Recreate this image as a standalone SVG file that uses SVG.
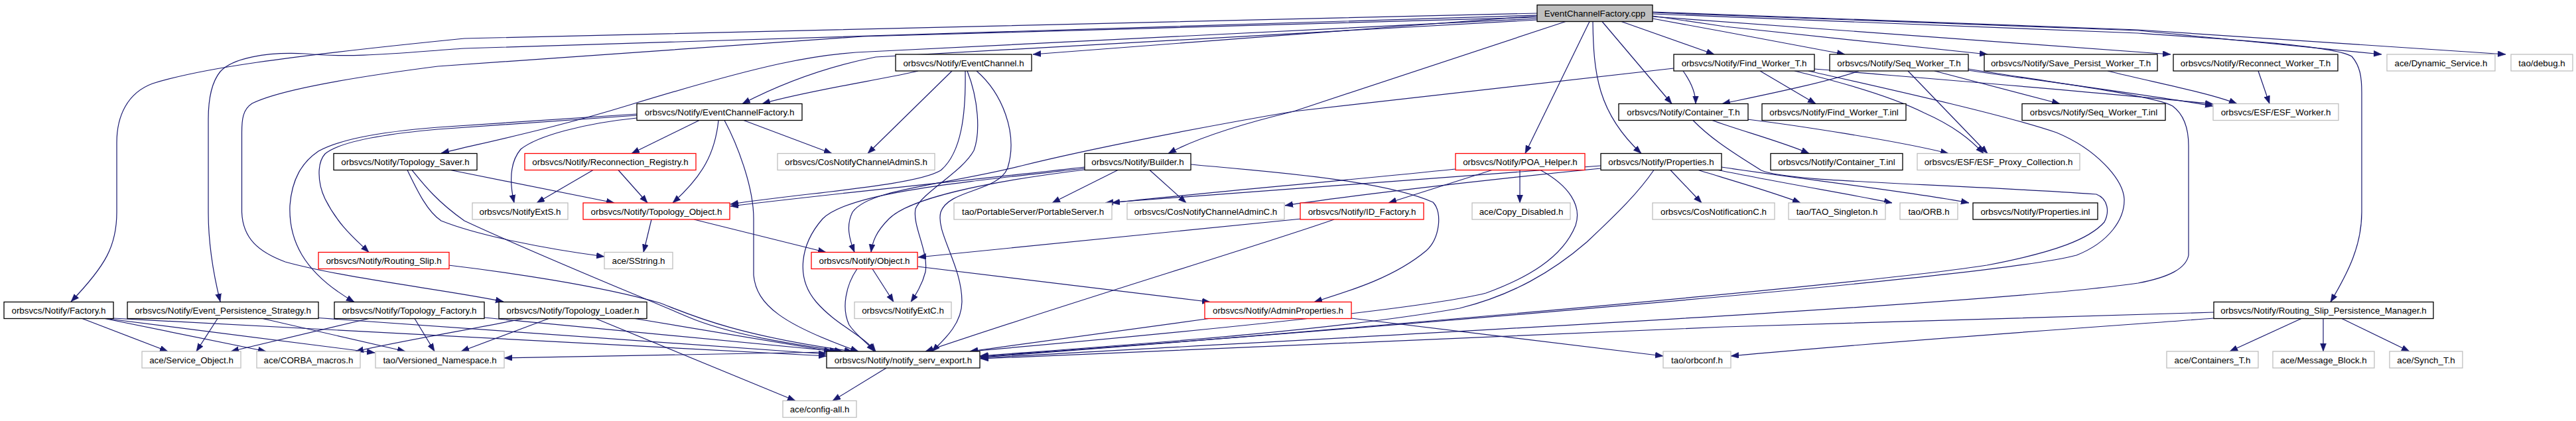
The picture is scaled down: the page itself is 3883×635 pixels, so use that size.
<svg xmlns="http://www.w3.org/2000/svg" width="3883" height="635" viewBox="0 0 3883 635">
<style>
rect{fill:#fff;stroke-width:1.3}
.k rect{stroke:#000}
.g rect{stroke:#bfbfbf}
.r rect{stroke:#ff0000}
.c rect{fill:#bfbfbf;stroke:#000}
text{font-family:"Liberation Sans",Arial,sans-serif;font-size:13.33px;fill:#000;text-anchor:middle}
#edges path{fill:none;stroke:#191970;stroke-width:1.2;marker-end:url(#a)}
</style>
<defs>
<marker id="a" markerUnits="userSpaceOnUse" markerWidth="13" markerHeight="10" refX="12" refY="4.5" orient="auto" viewBox="0 0 13 10">
<path d="M0,0 L12,4.5 L0,9 z" fill="#191970" stroke="#191970" stroke-width="0.5"/>
</marker>
</defs>
<rect x="0" y="0" width="3883" height="635" style="fill:#fff;stroke:none"/>
<g id="edges">
<path d="M2317,20 L700,58 C420,86 300,104 230,126 C192,140 176,175 176,215 L176,320 C176,370 160,400 107,455"/>
<path d="M2317,23 L700,73 C600,80 530,88 460,81 C400,78 350,88 332,108 C318,125 314,150 314,180 L314,320 C314,370 322,415 332,455"/>
<path d="M2317,26 L1300,55 L660,100 C520,118 420,136 380,156 C366,165 364.5,180 364.5,200 L364.5,320 C366,360 390,380 430,395 C520,420 680,438 759,455"/>
<path d="M2317,28 L1310,78 C1230,81 1150,97 950,158 C830,195 730,215 665,231"/>
<path d="M2317,30 L1320,86 C1239,102 1170,130 1119,156.5"/>
<path d="M2317,24 L1557,82"/>
<path d="M2360,32.5 L1950,168 C1880,185 1810,205 1761,231.5"/>
<path d="M2396,32.5 L2299,231.5"/>
<path d="M2401,32.5 C2402,110 2408,170 2474,231.5"/>
<path d="M2415,32.5 L2520,156.5"/>
<path d="M2444,32.5 L2584,82"/>
<path d="M2491,28 L2600,48 L2781,82"/>
<path d="M2491,24 L2600,40 L2996,82"/>
<path d="M2491,25 L3272,82"/>
<path d="M2491,19 L3223,46 L3590,82"/>
<path d="M2491,18 L3223,45 L3777,82"/>
<path d="M2491,21 L3223,50 C3400,62 3520,70 3545,85 C3558,100 3560,117 3560,140 L3560,320 C3560,370 3540,410 3513,455.5"/>
<path d="M1384,107 C1340,118 1210,138 1149,156.5"/>
<path d="M1435,107 L1308,231.5"/>
<path d="M1455,107 C1456,170 1450,230 1418,257 C1380,280 1220,290 1101,308"/>
<path d="M1458,107 C1475,150 1478,200 1468,227 C1450,260 1390,290 1380,315 C1375,340 1400,380 1395,410 C1390,430 1380,445 1373,455.5"/>
<path d="M1472,107 C1510,140 1535,200 1519,253 C1505,290 1430,285 1418,320 C1410,350 1450,400 1450,455 C1450,490 1420,515 1405,530"/>
<path d="M1685,256.5 L1586,306"/>
<path d="M1733,256.5 L1788,306"/>
<path d="M1795,248 C1900,258 2080,270 2160,305 C2175,320 2170,360 2150,378 C2100,420 2030,440 1981,455.5"/>
<path d="M1635,252 C1500,268 1300,287 1101,311"/>
<path d="M1635,256 C1480,275 1370,300 1340,330 C1320,350 1315,365 1313,380.5"/>
<path d="M1635,254 C1450,275 1280,290 1240,330 C1205,370 1200,420 1230,455 C1260,490 1300,505 1320,530"/>
<path d="M2523,103 L1950,168 C1820,190 1640,225 1540,250 C1420,280 1310,285 1285,320 C1275,340 1280,360 1288,380.5"/>
<path d="M2249,256.5 L2093,306"/>
<path d="M2291,256.5 L2291,306"/>
<path d="M2322,256.5 C2365,280 2385,310 2375,340 C2355,390 2300,420 2240,442 C2150,465 1800,500 1462,530"/>
<path d="M2194,255 C2000,275 1800,292 1676,306"/>
<path d="M2493,256.5 C2470,290 2440,320 2392,365 C2340,410 2280,445 2200,465 C2000,500 1700,520 1477,537"/>
<path d="M2518,256.5 L2565,306"/>
<path d="M2560,256.5 C2610,272 2680,292 2714,306"/>
<path d="M2590,256.5 C2680,275 2800,295 2852,306"/>
<path d="M2595,252 C2700,268 2900,292 2968,306"/>
<path d="M2413,250 C2100,275 1800,296 1666,306"/>
<path d="M2413,254 C2200,275 2000,300 1937,310"/>
<path d="M2581,181.5 C2620,196 2690,215 2727,231.5"/>
<path d="M2634,180 C2700,188 2860,212 2937,231.5"/>
<path d="M2552,181.5 C2575,205 2600,223 2655,257 C2700,275 2895,275 3160,293 C3178,300 3180,320 3172,335 C3150,360 3100,380 2995,400 C2800,430 2000,500 1478,539"/>
<path d="M2802,107 C2750,125 2650,145 2596,156.5"/>
<path d="M2916,107 L3105,156.5"/>
<path d="M2876,107 L2996,231.5"/>
<path d="M2966,106 C3100,125 3250,145 3336,160"/>
<path d="M2967,104 C3100,125 3250,145 3275,160 C3295,175 3299,200 3299,220 L3299,385 C3295,405 3270,418 3223,427 C3000,460 2000,510 1478,540"/>
<path d="M2537,107 C2550,125 2556,140 2556,156.5"/>
<path d="M2653,107 L2737,156.5"/>
<path d="M2705,107 C2780,125 2850,145 2900,170 C2945,190 2970,210 2990,231.5"/>
<path d="M2735,104 C2950,122 3200,142 3336,157"/>
<path d="M2726,107 C2850,135 3021,173 3100,200 C3160,225 3200,270 3202,300 C3203,330 3180,365 3130,385 C3000,420 2000,500 1478,538"/>
<path d="M3177,107 C3250,125 3330,140 3372,156.5"/>
<path d="M3404,107 L3421,156.5"/>
<path d="M960,172 L660,192 C560,200 510,212 480,228 C455,245 440,270 437,310 C435,360 455,410 534,455.5"/>
<path d="M960,174 L660,195 C570,203 510,215 490,232 C478,245 478,275 490,300 C510,340 535,360 556,380.5"/>
<path d="M960,178 C880,186 810,205 785,225 C768,245 768,275 775,306"/>
<path d="M1054,181.5 L952,231.5"/>
<path d="M1083,181.5 C1078,230 1060,265 1014,306"/>
<path d="M1121,181.5 L1254,231.5"/>
<path d="M1092,181.5 C1110,215 1136,280 1136,330 L1136,415 C1140,460 1180,490 1294,530"/>
<path d="M894,256.5 L809,306"/>
<path d="M932,256.5 L976,306"/>
<path d="M679,256.5 L926,306"/>
<path d="M614,256.5 C630,290 645,320 665,333 C720,355 820,375 911,387"/>
<path d="M621,256.5 C640,280 660,305 700,333 C800,380 960,445 1037,478 C1100,505 1200,520 1270,530"/>
<path d="M982,331 L970,380.5"/>
<path d="M1046,331 L1245,380.5"/>
<path d="M1315,405.5 L1347,455.5"/>
<path d="M1383,402 L1824,455.5"/>
<path d="M1292,405.5 C1275,430 1268,465 1280,490 C1290,505 1305,515 1318,530"/>
<path d="M1962,330 L1384,388"/>
<path d="M2011,331 C1900,370 1600,460 1395,530"/>
<path d="M1822,480.5 L1462,530"/>
<path d="M2037,480 L2507,537"/>
<path d="M1246,531 L760,540"/>
<path d="M1336,555 L1255,604.5"/>
<path d="M789,480.5 C720,495 600,515 536,530"/>
<path d="M827,480.5 L695,530"/>
<path d="M898,480.5 L1199,604.5"/>
<path d="M957,480.5 L1254,530"/>
<path d="M556,480.5 L348,530"/>
<path d="M625,480.5 L655,530"/>
<path d="M730,479 L1263,530"/>
<path d="M328,480.5 L296,530"/>
<path d="M396,480.5 L611,530"/>
<path d="M480,479.5 L1246,534"/>
<path d="M124,480.5 L253,530"/>
<path d="M158,480.5 L401,530"/>
<path d="M160,480.5 L565,532"/>
<path d="M170.5,480 L1246,537"/>
<path d="M676,400 C760,410 900,430 995,457 C1030,470 1100,505 1285,530"/>
<path d="M3469,480.5 L3361,530"/>
<path d="M3502,480.5 L3502,530"/>
<path d="M3530,480.5 L3632,530"/>
<path d="M3337,471 C3250,472 3100,478 2600,493 L1478,541"/>
<path d="M3337,480 C3250,487 2900,510 2609,537"/>
</g>
<g id="n_cpp" class="c"><rect x="2317" y="7.5" width="174" height="25"/><text x="2404" y="25">EventChannelFactory.cpp</text></g>
<g id="n_ec" class="k"><rect x="1350" y="82" width="205" height="25"/><text x="1452.5" y="99.5">orbsvcs/Notify/EventChannel.h</text></g>
<g id="n_fw" class="k"><rect x="2523" y="82" width="212" height="25"/><text x="2629" y="99.5">orbsvcs/Notify/Find_Worker_T.h</text></g>
<g id="n_sw" class="k"><rect x="2758" y="82" width="209" height="25"/><text x="2862.5" y="99.5">orbsvcs/Notify/Seq_Worker_T.h</text></g>
<g id="n_spw" class="k"><rect x="2991" y="82" width="261" height="25"/><text x="3121.5" y="99.5">orbsvcs/Notify/Save_Persist_Worker_T.h</text></g>
<g id="n_rw" class="k"><rect x="3276" y="82" width="248" height="25"/><text x="3400" y="99.5">orbsvcs/Notify/Reconnect_Worker_T.h</text></g>
<g id="n_ds" class="g"><rect x="3598" y="82" width="163" height="25"/><text x="3679.5" y="99.5">ace/Dynamic_Service.h</text></g>
<g id="n_dbg" class="g"><rect x="3785" y="82" width="93" height="25"/><text x="3831.5" y="99.5">tao/debug.h</text></g>
<g id="n_ecfh" class="k"><rect x="960" y="156.5" width="249" height="25"/><text x="1084.5" y="174">orbsvcs/Notify/EventChannelFactory.h</text></g>
<g id="n_ct" class="k"><rect x="2440" y="156.5" width="195" height="25"/><text x="2537.5" y="174">orbsvcs/Notify/Container_T.h</text></g>
<g id="n_fwi" class="k"><rect x="2656" y="156.5" width="217" height="25"/><text x="2764.5" y="174">orbsvcs/Notify/Find_Worker_T.inl</text></g>
<g id="n_swi" class="k"><rect x="3048" y="156.5" width="216" height="25"/><text x="3156" y="174">orbsvcs/Notify/Seq_Worker_T.inl</text></g>
<g id="n_esfw" class="g"><rect x="3336" y="156.5" width="189" height="25"/><text x="3430.5" y="174">orbsvcs/ESF/ESF_Worker.h</text></g>
<g id="n_ts" class="k"><rect x="503" y="231.5" width="216" height="25"/><text x="611" y="249">orbsvcs/Notify/Topology_Saver.h</text></g>
<g id="n_rr" class="r"><rect x="791" y="231.5" width="258" height="25"/><text x="920" y="249">orbsvcs/Notify/Reconnection_Registry.h</text></g>
<g id="n_cncas" class="g"><rect x="1172" y="231.5" width="237" height="25"/><text x="1290.5" y="249">orbsvcs/CosNotifyChannelAdminS.h</text></g>
<g id="n_bld" class="k"><rect x="1635" y="231.5" width="160" height="25"/><text x="1715" y="249">orbsvcs/Notify/Builder.h</text></g>
<g id="n_poa" class="r"><rect x="2194" y="231.5" width="195" height="25"/><text x="2291.5" y="249">orbsvcs/Notify/POA_Helper.h</text></g>
<g id="n_prop" class="k"><rect x="2413" y="231.5" width="182" height="25"/><text x="2504" y="249">orbsvcs/Notify/Properties.h</text></g>
<g id="n_cti" class="k"><rect x="2669" y="231.5" width="199" height="25"/><text x="2768.5" y="249">orbsvcs/Notify/Container_T.inl</text></g>
<g id="n_esfpc" class="g"><rect x="2890" y="231.5" width="245" height="25"/><text x="3012.5" y="249">orbsvcs/ESF/ESF_Proxy_Collection.h</text></g>
<g id="n_nes" class="g"><rect x="712" y="306" width="144" height="25"/><text x="784" y="323.5">orbsvcs/NotifyExtS.h</text></g>
<g id="n_to" class="r"><rect x="879" y="306" width="221" height="25"/><text x="989.5" y="323.5">orbsvcs/Notify/Topology_Object.h</text></g>
<g id="n_ps" class="g"><rect x="1438" y="306" width="238" height="25"/><text x="1557" y="323.5">tao/PortableServer/PortableServer.h</text></g>
<g id="n_cncac" class="g"><rect x="1699" y="306" width="237" height="25"/><text x="1817.5" y="323.5">orbsvcs/CosNotifyChannelAdminC.h</text></g>
<g id="n_idf" class="r"><rect x="1960" y="306" width="186" height="25"/><text x="2053" y="323.5">orbsvcs/Notify/ID_Factory.h</text></g>
<g id="n_cd" class="g"><rect x="2219" y="306" width="148" height="25"/><text x="2293" y="323.5">ace/Copy_Disabled.h</text></g>
<g id="n_cnc" class="g"><rect x="2491" y="306" width="184" height="25"/><text x="2583" y="323.5">orbsvcs/CosNotificationC.h</text></g>
<g id="n_taos" class="g"><rect x="2696" y="306" width="146" height="25"/><text x="2769" y="323.5">tao/TAO_Singleton.h</text></g>
<g id="n_orb" class="g"><rect x="2864" y="306" width="87" height="25"/><text x="2907.5" y="323.5">tao/ORB.h</text></g>
<g id="n_propi" class="k"><rect x="2974" y="306" width="188" height="25"/><text x="3068" y="323.5">orbsvcs/Notify/Properties.inl</text></g>
<g id="n_rs" class="r"><rect x="480" y="380.5" width="197" height="25"/><text x="578.5" y="398">orbsvcs/Notify/Routing_Slip.h</text></g>
<g id="n_ss" class="g"><rect x="911" y="380.5" width="103" height="25"/><text x="962.5" y="398">ace/SString.h</text></g>
<g id="n_obj" class="r"><rect x="1223" y="380.5" width="160" height="25"/><text x="1303" y="398">orbsvcs/Notify/Object.h</text></g>
<g id="n_fac" class="k"><rect x="6" y="455.5" width="165" height="25"/><text x="88.5" y="473">orbsvcs/Notify/Factory.h</text></g>
<g id="n_eps" class="k"><rect x="192" y="455.5" width="288" height="25"/><text x="336" y="473">orbsvcs/Notify/Event_Persistence_Strategy.h</text></g>
<g id="n_tf" class="k"><rect x="504" y="455.5" width="226" height="25"/><text x="617" y="473">orbsvcs/Notify/Topology_Factory.h</text></g>
<g id="n_tl" class="k"><rect x="752" y="455.5" width="223" height="25"/><text x="863.5" y="473">orbsvcs/Notify/Topology_Loader.h</text></g>
<g id="n_nec" class="g"><rect x="1288" y="455.5" width="146" height="25"/><text x="1361" y="473">orbsvcs/NotifyExtC.h</text></g>
<g id="n_ap" class="r"><rect x="1816" y="455.5" width="221" height="25"/><text x="1926.5" y="473">orbsvcs/Notify/AdminProperties.h</text></g>
<g id="n_rspm" class="k"><rect x="3337" y="455.5" width="331" height="25"/><text x="3502.5" y="473">orbsvcs/Notify/Routing_Slip_Persistence_Manager.h</text></g>
<g id="n_so" class="g"><rect x="214" y="530" width="149" height="25"/><text x="288.5" y="547.5">ace/Service_Object.h</text></g>
<g id="n_cm" class="g"><rect x="387" y="530" width="156" height="25"/><text x="465" y="547.5">ace/CORBA_macros.h</text></g>
<g id="n_vn" class="g"><rect x="566" y="530" width="194" height="25"/><text x="663" y="547.5">tao/Versioned_Namespace.h</text></g>
<g id="n_exp" class="k"><rect x="1246" y="530" width="231" height="25"/><text x="1361.5" y="547.5">orbsvcs/Notify/notify_serv_export.h</text></g>
<g id="n_orbc" class="g"><rect x="2507" y="530" width="102" height="25"/><text x="2558" y="547.5">tao/orbconf.h</text></g>
<g id="n_ctt" class="g"><rect x="3266" y="530" width="138" height="25"/><text x="3335" y="547.5">ace/Containers_T.h</text></g>
<g id="n_mb" class="g"><rect x="3426" y="530" width="153" height="25"/><text x="3502.5" y="547.5">ace/Message_Block.h</text></g>
<g id="n_st" class="g"><rect x="3602" y="530" width="110" height="25"/><text x="3657" y="547.5">ace/Synch_T.h</text></g>
<g id="n_ca" class="g"><rect x="1180" y="604.5" width="111" height="25"/><text x="1235.5" y="622">ace/config-all.h</text></g>
</svg>
